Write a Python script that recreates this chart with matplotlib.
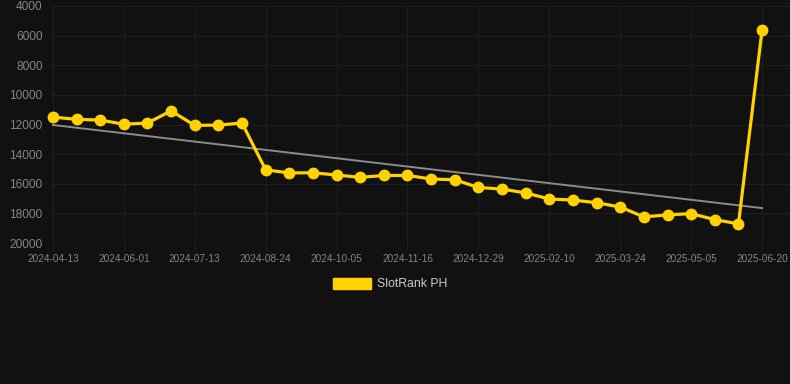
import numpy as np
import matplotlib
matplotlib.use("Agg")
import matplotlib.pyplot as plt
from matplotlib.patches import Patch

plt.rcParams["font.family"] = ["Liberation Sans", "DejaVu Sans"]

# Ranking points (lower is better -> inverted axis)
rank = [11500, 11650, 11700, 11980, 11900, 11080, 12060, 12040, 11900,
        15060, 15270, 15260, 15410, 15570, 15440, 15440, 15680, 15730,
        16250, 16360, 16620, 17030, 17100, 17280, 17570, 18240, 18100,
        18020, 18420, 18710, 5600]
tick_labels = ["2024-04-13", "2024-06-01", "2024-07-13", "2024-08-24",
               "2024-10-05", "2024-11-16", "2024-12-29", "2025-02-10",
               "2025-03-24", "2025-05-05", "2025-06-20"]
y_ticks = [4000, 6000, 8000, 10000, 12000, 14000, 16000, 18000, 20000]
series_name = "SlotRank PH"

BG = "#111111"
GOLD = "#FFD200"
GRID = "#1f1f1f"
TEXT = "#858585"

x = np.arange(len(rank))
slope, intercept = np.polyfit(x, rank, 1)
trend = slope * x + intercept

fig = plt.figure(figsize=(7.9, 3.84), dpi=100, facecolor=BG)
ax = fig.add_axes([51 / 790, 1 - 243 / 384, 739 / 790, 237 / 384], facecolor=BG)

ax.plot(x, trend, color="#8c8c8c", lw=1.4, zorder=2)
ax.plot(x, rank, color=GOLD, lw=2.3, marker="o", ms=7.5, mfc=GOLD, mec=GOLD,
        zorder=3, clip_on=False)

ax.set_ylim(20000, 4000)
ax.set_xlim(-0.08, 31.18)
ax.set_yticks(y_ticks)
ax.set_yticklabels([str(v) for v in y_ticks])
ax.set_xticks(x[::3])
ax.set_xticklabels(tick_labels)

ax.grid(True, color=GRID, lw=0.8)
ax.set_axisbelow(True)
for s in ax.spines.values():
    s.set_visible(False)
ax.tick_params(axis="y", length=0, pad=6, labelsize=8.6, colors=TEXT)
ax.tick_params(axis="x", length=5, width=0.8, color=GRID, pad=3, labelsize=7.2, labelcolor=TEXT)

handle = Patch(facecolor=GOLD, edgecolor=GOLD)
leg = fig.legend([handle], [series_name], loc="center", bbox_to_anchor=(390 / 790, 1 - 284 / 384),
                 frameon=False, fontsize=8.8, handlelength=3.1, handleheight=1.0,
                 handletextpad=0.5)
for t in leg.get_texts():
    t.set_color("#cccccc")

fig.savefig("out.png", dpi=100, facecolor=BG)
